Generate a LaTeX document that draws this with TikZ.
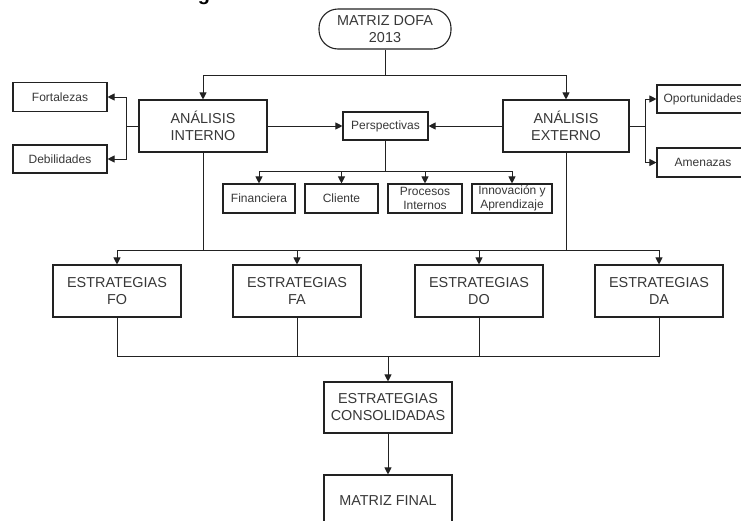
\documentclass[tikz,border=0pt]{standalone}
\usepackage{fontspec}
\setmainfont{Liberation Sans}
\usetikzlibrary{arrows.meta}

\definecolor{ink}{HTML}{222222}

\tikzset{
  big/.style={font=\fontsize{14.4}{17}\selectfont},
  small/.style={font=\fontsize{12}{14.5}\selectfont},
  box/.style={draw=ink, line width=1.1pt, fill=white, align=center,
              inner sep=0pt, text=ink!90},
  bigbox/.style={box, big, minimum width=128pt, minimum height=52pt},
  smallbox/.style={box, small, minimum height=29pt},
  link/.style={draw=ink, line width=0.9pt},
  arr/.style={link, -{Triangle[length=7pt,width=7pt]}},
}

\begin{document}
\begin{tikzpicture}[x=1pt,y=-1pt]
\useasboundingbox (0,0) rectangle (741,520);
\clip (0,0) rectangle (741,520);

% heading (only its lower edge lies inside the frame)
\node[anchor=base, font=\fontsize{20}{20}\selectfont\bfseries, text=black,
      inner sep=0pt] (head) at (204,0) {g};

% top terminator
\node[box, big, rounded corners=19pt, minimum width=132pt, minimum height=40pt]
  (matriz) at (385,29) {MATRIZ DOFA\\2013};

% analysis level
\node[bigbox, minimum width=128pt] (interno) at (203,126) {ANÁLISIS\\INTERNO};
\node[bigbox, minimum width=126pt] (externo) at (566,126) {ANÁLISIS\\EXTERNO};
\node[smallbox, minimum width=85pt, minimum height=28pt] (persp) at (385.5,126) {Perspectivas};

\node[smallbox, minimum width=94pt] (fort) at (60,97) {Fortalezas};
\node[smallbox, minimum width=94pt, minimum height=28pt] (deb) at (60,159) {Debilidades};
\node[smallbox, minimum width=92pt, minimum height=28pt] (oport) at (703,99) {Oportunidades};
\node[smallbox, minimum width=92pt] (amen) at (703,162.5) {Amenazas};

% perspectives
\node[smallbox, minimum width=72pt] (finan) at (259,198.5) {Financiera};
\node[smallbox, minimum width=73pt] (cli) at (341.5,198.5) {Cliente};
\node[smallbox, minimum width=74pt] (proc) at (425,198.5) {Procesos\\Internos};
\node[smallbox, minimum width=80pt] (inno) at (512,198.5) {Innovación y\\Aprendizaje};

% strategies
\node[bigbox] (fo) at (117,291) {ESTRATEGIAS\\FO};
\node[bigbox] (fa) at (297,291) {ESTRATEGIAS\\FA};
\node[bigbox] (do) at (479,291) {ESTRATEGIAS\\DO};
\node[bigbox] (da) at (659,291) {ESTRATEGIAS\\DA};

\node[bigbox, minimum height=51pt] (consol) at (388,407.5) {ESTRATEGIAS\\CONSOLIDADAS};
\node[bigbox, minimum height=51pt] (final) at (388,500.5) {MATRIZ FINAL};

% bus levels
\coordinate (topbus) at (385,75);
\coordinate (perbus) at (385.5,171);
\coordinate (midbus) at (0,250);
\coordinate (lowbus) at (388,356);

% connectors: terminator to analyses
\draw[link] (matriz.south) -- (topbus);
\draw[arr] (topbus) -| (interno.north);
\draw[arr] (topbus) -| (externo.north);

% internal analysis branches
\draw[arr] (interno.west) -- ++(-12,0) |- (fort.east);
\draw[arr] (interno.west) -- ++(-12,0) |- (deb.east);
\draw[arr] (interno.east) -- (persp.west);

% external analysis branches
\draw[arr] (externo.east) -- ++(16,0) |- (oport.west);
\draw[arr] (externo.east) -- ++(16,0) |- (amen.west);
\draw[arr] (externo.west) -- (persp.east);

% perspectives
\draw[link] (persp.south) -- (perbus);
\draw[arr] (perbus) -| (finan.north);
\draw[arr] (perbus) -| (cli.north);
\draw[arr] (perbus) -| (proc.north);
\draw[arr] (perbus) -| (inno.north);

% analyses down to strategies
\draw[link] (interno.south) -- (interno.south |- midbus);
\draw[link] (externo.south) -- (externo.south |- midbus);
\draw[link] (fo.north |- midbus) -- (da.north |- midbus);
\draw[arr] (fo.north |- midbus) -- (fo.north);
\draw[arr] (fa.north |- midbus) -- (fa.north);
\draw[arr] (do.north |- midbus) -- (do.north);
\draw[arr] (da.north |- midbus) -- (da.north);

% strategies merged
\draw[link] (fo.south) -- (fo.south |- lowbus) -- (da.south |- lowbus) -- (da.south);
\draw[link] (fa.south) -- (fa.south |- lowbus);
\draw[link] (do.south) -- (do.south |- lowbus);
\draw[arr] (lowbus) -- (consol.north);
\draw[arr] (consol.south) -- (final.north);
\end{tikzpicture}
\end{document}
